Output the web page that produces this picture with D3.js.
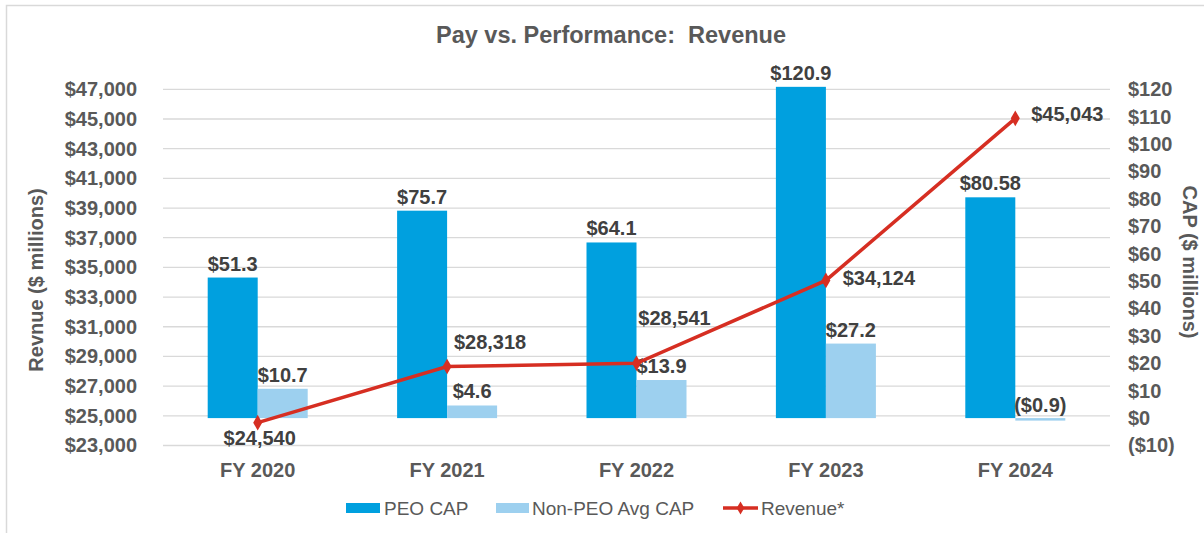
<!DOCTYPE html>
<html>
<head>
<meta charset="utf-8">
<script src="https://cdn.jsdelivr.net/npm/d3@7"></script>
<style>
  html, body { margin: 0; padding: 0; background: #fff; }
  svg { display: block; font-family: "Liberation Sans", Arial, sans-serif; }
</style>
</head>
<body>
<svg id="chart" width="1204" height="533"></svg>
<script>
// Fiscal years and values
const years = ["FY 2020", "FY 2021", "FY 2022", "FY 2023", "FY 2024"];
const peoCap = [51.3, 75.7, 64.1, 120.9, 80.58];
const peoCapLabels = ["$51.3", "$75.7", "$64.1", "$120.9", "$80.58"];
const nonPeoCap = [10.7, 4.6, 13.9, 27.2, -0.9];
const nonPeoCapLabels = ["$10.7", "$4.6", "$13.9", "$27.2", "($0.9)"];
const revenue = [24540, 28318, 28541, 34124, 45043];
const revenueLabels = ["$24,540", "$28,318", "$28,541", "$34,124", "$45,043"];
const revenueTicks = [23000, 25000, 27000, 29000, 31000, 33000, 35000, 37000, 39000, 41000, 43000, 45000, 47000];
const capTicks = [-10, 0, 10, 20, 30, 40, 50, 60, 70, 80, 90, 100, 110, 120];

const svg = d3.select("#chart");
const plot = { left: 163, right: 1110, top: 89.3, bottom: 445.5 };

const colPeo = "#00A0DF";
const colNonPeo = "#9DD0EF";
const colRev = "#D62E22";
const colTick = "#595959";
const colLabel = "#404040";

// outer frame
svg.append("rect")
  .attr("x", 6.5).attr("y", 5.5).attr("width", 1220).attr("height", 560)
  .attr("fill", "#fff").attr("stroke", "#d9d9d9").attr("stroke-width", 1.5);

const x = d3.scaleBand().domain(years).range([plot.left, plot.right]).paddingInner(0).paddingOuter(0);
const yRev = d3.scaleLinear().domain([23000, 47000]).range([plot.bottom, plot.top]);
const yCap = d3.scaleLinear().domain([-10, 120]).range([plot.bottom, plot.top]);
const barW = 50;

// gridlines
svg.append("g").selectAll("line").data(revenueTicks).join("line")
  .attr("x1", plot.left).attr("x2", plot.right)
  .attr("y1", d => yRev(d)).attr("y2", d => yRev(d))
  .attr("stroke", "#d9d9d9").attr("stroke-width", 1.3);

// left axis
const leftAxis = d3.axisLeft(yRev).tickValues(revenueTicks).tickSize(0).tickPadding(0)
  .tickFormat(d => "$" + d3.format(",")(d));
const gl = svg.append("g").attr("transform", `translate(137,0)`).call(leftAxis);
gl.select(".domain").remove();
gl.selectAll("text").attr("fill", colTick).attr("font-size", 20).attr("font-weight", "bold")
  .attr("font-family", "Liberation Sans, Arial, sans-serif");

// right axis
const rightAxis = d3.axisRight(yCap).tickValues(capTicks).tickSize(0).tickPadding(0)
  .tickFormat(d => d < 0 ? "($" + Math.abs(d) + ")" : "$" + d);
const gr = svg.append("g").attr("transform", `translate(1128,0)`).call(rightAxis);
gr.select(".domain").remove();
gr.selectAll("text").attr("fill", colTick).attr("font-size", 20).attr("font-weight", "bold")
  .attr("font-family", "Liberation Sans, Arial, sans-serif");

// category axis
const bottomAxis = d3.axisBottom(x).tickSize(0).tickPadding(0);
const gb = svg.append("g").attr("transform", `translate(0,${plot.bottom + 17})`).call(bottomAxis);
gb.select(".domain").remove();
gb.selectAll("text").attr("fill", colTick).attr("font-size", 20).attr("font-weight", "bold")
  .attr("font-family", "Liberation Sans, Arial, sans-serif");

// title
svg.append("text").attr("x", 611).attr("y", 43).attr("text-anchor", "middle")
  .attr("font-size", 23.5).attr("font-weight", "bold").attr("fill", colTick)
  .attr("xml:space", "preserve")
  .text("Pay vs. Performance:  Revenue");

// axis titles
svg.append("text").attr("transform", "translate(43,280) rotate(-90)").attr("text-anchor", "middle")
  .attr("font-size", 20).attr("font-weight", "bold").attr("fill", colTick)
  .text("Revnue ($ millions)");
svg.append("text").attr("transform", "translate(1183,262) rotate(90)").attr("text-anchor", "middle")
  .attr("font-size", 20).attr("font-weight", "bold").attr("fill", colTick)
  .text("CAP ($ millions)");

const cx = d => x(d) + x.bandwidth() / 2;

// PEO CAP bars
svg.append("g").selectAll("rect").data(years).join("rect")
  .attr("x", d => cx(d) - barW)
  .attr("width", barW)
  .attr("y", (d, i) => yCap(Math.max(0, peoCap[i])))
  .attr("height", (d, i) => Math.abs(yCap(peoCap[i]) - yCap(0)))
  .attr("fill", colPeo);

// Non-PEO average CAP bars
svg.append("g").selectAll("rect").data(years).join("rect")
  .attr("x", d => cx(d))
  .attr("width", barW)
  .attr("y", (d, i) => yCap(Math.max(0, nonPeoCap[i])))
  .attr("height", (d, i) => Math.max(2.5, Math.abs(yCap(nonPeoCap[i]) - yCap(0))))
  .attr("fill", colNonPeo);

const labelStyle = sel => sel.attr("font-size", 20).attr("font-weight", "bold")
  .attr("fill", colLabel).attr("text-anchor", "middle");

// bar value labels
svg.append("g").selectAll("text").data(years).join("text")
  .attr("x", d => cx(d) - barW / 2)
  .attr("y", (d, i) => yCap(peoCap[i]) - 7)
  .text((d, i) => peoCapLabels[i]).call(labelStyle);

svg.append("g").selectAll("text").data(years).join("text")
  .attr("x", d => cx(d) + barW / 2)
  .attr("y", (d, i) => yCap(Math.max(0, nonPeoCap[i])) - (nonPeoCap[i] < 0 ? 6 : 7))
  .text((d, i) => nonPeoCapLabels[i]).call(labelStyle);

// revenue line
const line = d3.line().x((d, i) => cx(years[i])).y(d => yRev(d));
svg.append("path").datum(revenue).attr("d", line)
  .attr("fill", "none").attr("stroke", colRev).attr("stroke-width", 3.5);

svg.append("g").selectAll("path").data(revenue).join("path")
  .attr("d", d3.symbol(d3.symbolDiamond, 70))
  .attr("transform", (d, i) => `translate(${cx(years[i])},${yRev(d)})`)
  .attr("fill", colRev);

// revenue labels, offset around each point
const revOffsets = [[2, 22], [43, -18], [38, -38], [53, 5], [52, 3]];
svg.append("g").selectAll("text").data(revenue).join("text")
  .attr("x", (d, i) => cx(years[i]) + revOffsets[i][0])
  .attr("y", (d, i) => yRev(d) + revOffsets[i][1])
  .text((d, i) => revenueLabels[i]).call(labelStyle);

// legend
const lg = svg.append("g").attr("font-size", 19).attr("fill", colTick);
lg.append("rect").attr("x", 346).attr("y", 503).attr("width", 34).attr("height", 10).attr("fill", colPeo);
lg.append("text").attr("x", 384).attr("y", 515).text("PEO CAP");
lg.append("rect").attr("x", 496).attr("y", 503).attr("width", 33).attr("height", 10).attr("fill", colNonPeo);
lg.append("text").attr("x", 532).attr("y", 515).text("Non-PEO Avg CAP");
lg.append("line").attr("x1", 723).attr("x2", 758).attr("y1", 508).attr("y2", 508)
  .attr("stroke", colRev).attr("stroke-width", 3.5);
lg.append("path").attr("d", d3.symbol(d3.symbolDiamond, 50))
  .attr("transform", "translate(740.5,508)").attr("fill", colRev);
lg.append("text").attr("x", 761).attr("y", 515).text("Revenue*");
</script>
</body>
</html>
